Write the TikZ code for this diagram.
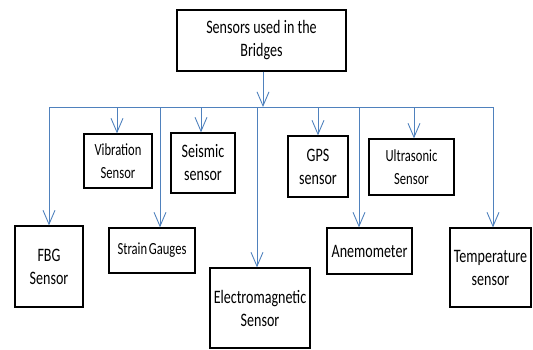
\documentclass[tikz,border=0pt]{standalone}
\usepackage{fontspec}
\newfontfamily\cfont[FakeStretch=0.74]{Carlito}
\usetikzlibrary{arrows.meta}
\definecolor{conncol}{HTML}{4F81BD}
\tikzset{
  box/.style={draw=black, line width=1.2pt, inner sep=0pt, align=center, fill=white,
    font=\cfont\fontsize{19}{23}\selectfont},
  smallbox/.style={box, font=\cfont\fontsize{17}{23}\selectfont},
  conn/.style={draw=conncol, line width=1pt},
  arr/.style={conn, -{Straight Barb[length=14pt,width=12pt,line width=0.9pt]}}
}
\begin{document}
\begin{tikzpicture}[x=1pt,y=-1pt]
\useasboundingbox (0,0) rectangle (533,349);
% boxes
\node[box, minimum width=169pt, minimum height=61pt] (top) at (261.5,40.5) {Sensors used in the\\Bridges};
\node[smallbox, minimum width=68pt, minimum height=54pt] (vib) at (118,161) {Vibration\\Sensor};
\node[box, minimum width=64pt, minimum height=60pt] (seis) at (203,163) {Seismic\\sensor};
\node[box, minimum width=60pt, minimum height=61pt] (gps) at (318,166.5) {GPS\\sensor};
\node[smallbox, minimum width=85pt, minimum height=56pt] (ultra) at (411.5,167) {Ultrasonic\\Sensor};
\node[box, minimum width=68pt, minimum height=81pt] (fbg) at (49,266.5) {FBG\\Sensor};
\node[smallbox, minimum width=86pt, minimum height=45pt] (strain) at (152,250.5) {Strain\hspace{0.1em}Gauges};
\node[box, minimum width=100pt, minimum height=80pt] (em) at (260,308) {Electromagnetic\\Sensor};
\node[box, minimum width=85pt, minimum height=46pt] (anem) at (369.5,251) {Anemometer};
\node[box, minimum width=81pt, minimum height=79pt] (temp) at (490.5,267.5) {Temperature\\sensor};
% bus coordinates
\coordinate (bt) at (263,107);
\coordinate (bl) at (49,107);
\coordinate (br) at (493,107);
\coordinate (bvib) at (117,107);
\coordinate (bstrain) at (160,107);
\coordinate (bseis) at (201,107);
\coordinate (bem) at (257,107);
\coordinate (bgps) at (318,107);
\coordinate (banem) at (359,107);
\coordinate (bultra) at (414,107);
% connectors
\draw[arr] (bt |- top.south) -- (bt);
\draw[conn] (bl) -- (br);
\draw[arr] (bl) -- (bl |- fbg.north);
\draw[arr] (bvib) -- (bvib |- vib.north);
\draw[arr] (bstrain) -- (bstrain |- strain.north);
\draw[arr] (bseis) -- (bseis |- seis.north);
\draw[arr] (bem) -- (bem |- em.north);
\draw[arr] (bgps) -- (bgps |- gps.north);
\draw[arr] (banem) -- (banem |- anem.north);
\draw[arr] (bultra) -- (bultra |- ultra.north);
\draw[arr] (br) -- (br |- temp.north);
\end{tikzpicture}
\end{document}
